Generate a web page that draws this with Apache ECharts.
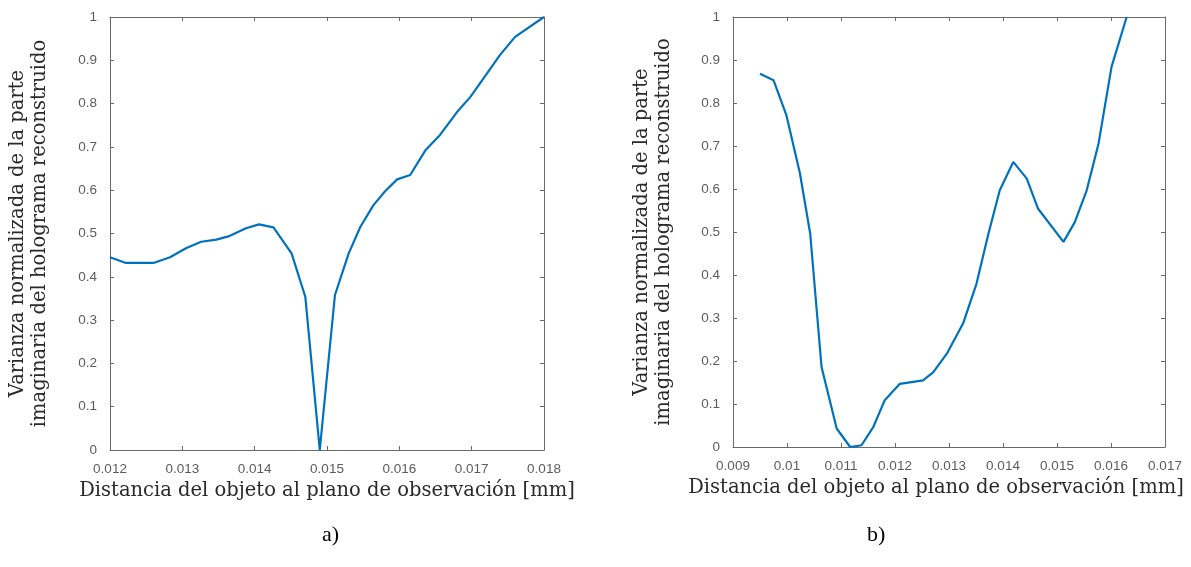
<!DOCTYPE html>
<html>
<head>
<meta charset="utf-8">
<script src="https://cdn.jsdelivr.net/npm/echarts@6/dist/echarts.min.js"></script>
<style>
html,body{margin:0;padding:0;background:#fff;}
#chart{width:1191px;height:567px;}
</style>
</head>
<body>
<div id="chart"></div>
<script>
// ---- Data ----
const distanceA = [0.0120, 0.01222, 0.0126, 0.01283, 0.01305, 0.01326, 0.01347, 0.01365, 0.01388, 0.01406, 0.01426, 0.01451, 0.01470, 0.01490, 0.01511, 0.01530, 0.01546, 0.01564, 0.01580, 0.01597, 0.01615, 0.01636, 0.01656, 0.01680, 0.01698, 0.01721, 0.01739, 0.01760, 0.01800];
const varianceA = [0.445, 0.432, 0.432, 0.445, 0.466, 0.481, 0.486, 0.494, 0.512, 0.521, 0.514, 0.454, 0.354, 0.0, 0.358, 0.454, 0.515, 0.565, 0.597, 0.625, 0.635, 0.692, 0.727, 0.781, 0.815, 0.869, 0.912, 0.954, 1.0];

const distanceB = [0.0095, 0.00975, 0.00999, 0.01024, 0.01043, 0.01064, 0.01092, 0.01117, 0.01138, 0.0116, 0.01181, 0.01209, 0.01252, 0.01271, 0.01296, 0.01326, 0.01351, 0.01373, 0.01394, 0.01419, 0.01444, 0.01465, 0.01512, 0.01533, 0.01555, 0.01577, 0.01601, 0.01629];
const varianceB = [0.868, 0.853, 0.771, 0.636, 0.496, 0.186, 0.043, 0.0, 0.004, 0.047, 0.109, 0.147, 0.155, 0.174, 0.217, 0.287, 0.380, 0.496, 0.597, 0.663, 0.624, 0.554, 0.477, 0.523, 0.597, 0.706, 0.884, 1.0];

const xRangeA = [0.012, 0.018];
const xRangeB = [0.009, 0.017];
const yRange = [0, 1];
const xStep = 0.001;
const yStep = 0.1;

const xAxisTitle = 'Distancia del objeto al plano de observación [mm]';
const yAxisTitle = 'Varianza normalizada de la parte\nimaginaria del holograma reconstruido';
const panelLabels = ['a)', 'b)'];

// ---- Chart ----
const lineColor = '#0072BD';
const axisColor = '#6a6a6a';
const tickFont = {color: '#5c5c5c', fontSize: 13.5, fontFamily: 'Liberation Sans, Arial, sans-serif'};
const titleFont = {color: '#2a2a2a', fontSize: 19.5, fontFamily: 'DejaVu Serif, serif'};

function fmt(v){ return String(+v.toFixed(4)); }

function xAxes(gridIndex, range, gap, pad){
  return [
    {type:'value', gridIndex, min:range[0], max:range[1], interval:xStep, position:'bottom',
     axisLine:{show:true, onZero:false, lineStyle:{color:axisColor, width:1}},
     axisTick:{show:true, inside:true, length:4, lineStyle:{color:axisColor}},
     axisLabel:Object.assign({margin:12, formatter:fmt}, tickFont),
     splitLine:{show:false},
     name:xAxisTitle, nameLocation:'middle', nameGap:gap,
     nameTextStyle:Object.assign({padding:pad}, titleFont)},
    {type:'value', gridIndex, min:range[0], max:range[1], interval:xStep, position:'top',
     axisLine:{show:true, onZero:false, lineStyle:{color:axisColor, width:1}},
     axisTick:{show:true, inside:true, length:4, lineStyle:{color:axisColor}},
     axisLabel:{show:false}, splitLine:{show:false}}
  ];
}
function yAxes(gridIndex, gap){
  return [
    {type:'value', gridIndex, min:yRange[0], max:yRange[1], interval:yStep, position:'left',
     axisLine:{show:true, onZero:false, lineStyle:{color:axisColor, width:1}},
     axisTick:{show:true, inside:true, length:4, lineStyle:{color:axisColor}},
     axisLabel:Object.assign({margin:13, formatter:fmt}, tickFont),
     splitLine:{show:false},
     name:yAxisTitle, nameLocation:'middle', nameRotate:90, nameGap:gap,
     nameTextStyle:Object.assign({lineHeight:22, align:'center'}, titleFont)},
    {type:'value', gridIndex, min:yRange[0], max:yRange[1], interval:yStep, position:'right',
     axisLine:{show:true, onZero:false, lineStyle:{color:axisColor, width:1}},
     axisTick:{show:true, inside:true, length:4, lineStyle:{color:axisColor}},
     axisLabel:{show:false}, splitLine:{show:false}}
  ];
}

const option = {
  backgroundColor:'#fff',
  animation:false,
  grid:[
    {left:110, top:17, width:434, height:433, outerBoundsMode:'none', containLabel:false},
    {left:733, top:17, width:432, height:430, outerBoundsMode:'none', containLabel:false}
  ],
  xAxis:[...xAxes(0, xRangeA, 27, [0,0,0,0]), ...xAxes(1, xRangeB, 31, [0,26,0,0])],
  yAxis:[...yAxes(0, 59), ...yAxes(1, 58)],
  series:[
    {type:'line', xAxisIndex:0, yAxisIndex:0, data:distanceA.map((d,i)=>[d, varianceA[i]]),
     showSymbol:false, lineStyle:{color:lineColor, width:2.2}, clip:true},
    {type:'line', xAxisIndex:2, yAxisIndex:2, data:distanceB.map((d,i)=>[d, varianceB[i]]),
     showSymbol:false, lineStyle:{color:lineColor, width:2.2}, clip:true}
  ],
  graphic:[
    {type:'text', left:322, top:524, style:{text:panelLabels[0], fill:'#000', font:'22px "Liberation Serif", serif'}},
    {type:'text', left:867, top:524, style:{text:panelLabels[1], fill:'#000', font:'22px "Liberation Serif", serif'}}
  ]
};

const chart = echarts.init(document.getElementById('chart'), null, {renderer:'canvas'});
chart.setOption(option);
</script>
</body>
</html>
